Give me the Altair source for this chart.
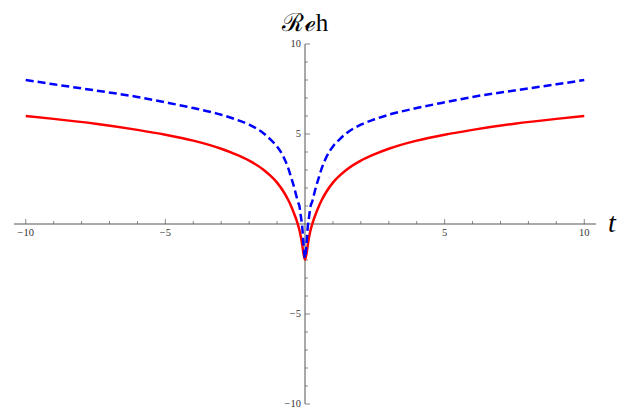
import altair as alt
import pandas as pd

# data (positive and negative halves written out)
t_vals = [-10, -9, -7.5, -6, -5, -4, -3, -2.5, -2, -1.5, -1.25, -1, -0.75, -0.6, -0.5, -0.4, -0.3, -0.26, -0.2, -0.15, -0.1, -0.05,
          0,
          0.05, 0.1, 0.15, 0.2, 0.26, 0.3, 0.4, 0.5, 0.6, 0.75, 1, 1.25, 1.5, 2, 2.5, 3, 4, 5, 6, 7.5, 9, 10]
red_vals = [6.0, 5.84, 5.57, 5.23, 4.96, 4.63, 4.18, 3.88, 3.52, 3.03, 2.7, 2.3, 1.75, 1.33, 1.0, 0.62, 0.2, 0.0, -0.33, -0.7, -1.15, -1.68,
            -1.97,
            -1.68, -1.15, -0.7, -0.33, 0.0, 0.2, 0.62, 1.0, 1.33, 1.75, 2.3, 2.7, 3.03, 3.52, 3.88, 4.18, 4.63, 4.96, 5.23, 5.57, 5.84, 6.0]
blue_vals = [8.0, 7.76, 7.42, 7.06, 6.76, 6.44, 6.07, 5.82, 5.52, 5.06, 4.72, 4.31, 3.67, 3.1, 2.6, 2.1, 1.5, 1.25, 1.0, 0.45, -0.15, -1.2,
             -1.9,
             -1.2, -0.15, 0.45, 1.0, 1.25, 1.5, 2.1, 2.6, 3.1, 3.67, 4.31, 4.72, 5.06, 5.52, 5.82, 6.07, 6.44, 6.76, 7.06, 7.42, 7.76, 8.0]

x_major = [-10, -5, 5, 10]
x_major_labels = ["\u221210", "\u22125", "5", "10"]
x_minor = [-9, -8, -7, -6, -4, -3, -2, -1, 1, 2, 3, 4, 6, 7, 8, 9]
y_major = [-10, -5, 5, 10]
y_major_labels = ["\u221210", "\u22125", "5", "10"]
y_minor = [-9, -8, -7, -6, -4, -3, -2, -1, 1, 2, 3, 4, 6, 7, 8, 9]
x_domain = [-10.42, 10.42]
y_domain = [-10, 10]
title_text = "\u211B\u212Fh"
x_title = "t"

W, H = 582, 360
AX = "#555555"
FONT = "Liberation Serif"

xs = alt.Scale(domain=x_domain, nice=False, zero=False)
ys = alt.Scale(domain=y_domain, nice=False, zero=False)

curves = pd.DataFrame({"t": t_vals, "red": red_vals, "blue": blue_vals})
zero = pd.DataFrame({"z": [0]})
xmaj = pd.DataFrame({"v": x_major, "lab": x_major_labels, "z": 0})
xmin = pd.DataFrame({"v": x_minor, "z": 0})
ymaj = pd.DataFrame({"v": y_major, "lab": y_major_labels, "z": 0})
ymin = pd.DataFrame({"v": y_minor, "z": 0})
ttl = pd.DataFrame({"lab": [title_text], "z": [0]})
tlab = pd.DataFrame({"lab": [x_title], "z": [0]})

X = lambda f: alt.X(f, scale=xs, axis=None)
Y = lambda f: alt.Y(f, scale=ys, axis=None)

x_axis_line = alt.Chart(zero).mark_rule(color=AX, strokeWidth=1).encode(
    x=alt.value(0), x2=alt.value(W), y=Y("z:Q"))
y_axis_line = alt.Chart(zero).mark_rule(color=AX, strokeWidth=1).encode(
    x=X("z:Q"), y=alt.value(0), y2=alt.value(H))

x_maj_ticks = alt.Chart(xmaj).mark_tick(orient="vertical", size=5, thickness=1, yOffset=-2.5, color=AX).encode(
    x=X("v:Q"), y=Y("z:Q"))
x_min_ticks = alt.Chart(xmin).mark_tick(orient="vertical", size=3, thickness=1, yOffset=-1.5, color=AX).encode(
    x=X("v:Q"), y=Y("z:Q"))
y_maj_ticks = alt.Chart(ymaj).mark_tick(orient="horizontal", size=5, thickness=1, xOffset=2.5, color=AX).encode(
    y=Y("v:Q"), x=X("z:Q"))
y_min_ticks = alt.Chart(ymin).mark_tick(orient="horizontal", size=3, thickness=1, xOffset=1.5, color=AX).encode(
    y=Y("v:Q"), x=X("z:Q"))

x_labels = alt.Chart(xmaj).mark_text(baseline="top", dy=4, font=FONT, fontSize=10.5, color="#333333").encode(
    x=X("v:Q"), y=Y("z:Q"), text="lab:N")
y_labels = alt.Chart(ymaj).mark_text(align="right", baseline="middle", dx=-4, font=FONT, fontSize=10.5, color="#333333").encode(
    y=Y("v:Q"), x=X("z:Q"), text="lab:N")

red_line = alt.Chart(curves).mark_line(color="#ff0000", strokeWidth=2.5, interpolate="monotone").encode(
    x=X("t:Q"), y=Y("red:Q"))
blue_line = alt.Chart(curves).mark_line(color="#0000ff", strokeWidth=2.5, strokeDash=[8, 4], interpolate="monotone").encode(
    x=X("t:Q"), y=Y("blue:Q"))

title = alt.Chart(ttl).mark_text(
    font=FONT, fontSize=25, baseline="alphabetic", color="black").encode(
    x=X("z:Q"), y=alt.value(-13), text="lab:N")
t_label = alt.Chart(tlab).mark_text(
    font=FONT, fontSize=28, fontStyle="italic", baseline="middle", color="black").encode(
    x=alt.value(598), y=Y("z:Q"), text="lab:N")

chart = alt.layer(
    x_axis_line, y_axis_line, x_maj_ticks, x_min_ticks, y_maj_ticks, y_min_ticks,
    x_labels, y_labels, red_line, blue_line, title, t_label
).properties(
    width=W, height=H,
    autosize=alt.AutoSizeParams(type="none"),
    padding={"left": 6, "top": 36, "right": 29, "bottom": 6},
    background="white",
).configure_view(stroke=None)

chart.save("out.html", embed_options={"renderer": "svg", "actions": False})
